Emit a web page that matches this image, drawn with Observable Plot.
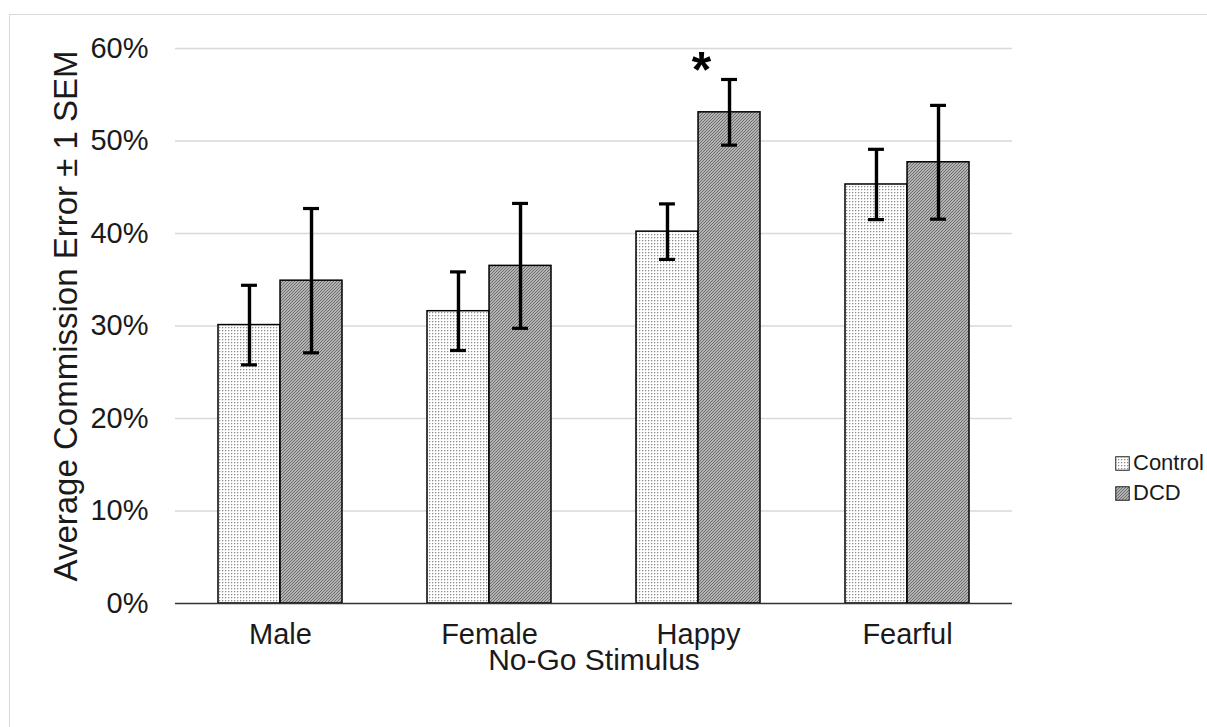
<!DOCTYPE html>
<html>
<head>
<meta charset="utf-8">
<script src="https://cdn.jsdelivr.net/npm/d3@7"></script>
<script src="https://cdn.jsdelivr.net/npm/@observablehq/plot@0.6"></script>
<style>
  html, body { margin: 0; padding: 0; background: #fff; }
  body { width: 1207px; height: 727px; position: relative; overflow: hidden; font-family: "Liberation Sans", Arial, sans-serif; }
  #frame { position: absolute; left: 9px; top: 14px; width: 1300px; height: 800px; border: 1.5px solid #d9d9d9; box-sizing: border-box; }
  #chart { position: absolute; left: 0; top: 0; }
  #legend { position: absolute; left: 1115px; top: 448px; font-size: 22px; color: #1a1a1a; }
  .item { display: flex; align-items: center; height: 30px; }
  .item svg { margin-right: 3px; }
</style>
</head>
<body>
<svg width="0" height="0" style="position:absolute">
  <defs>
    <pattern id="pCtrl" width="3" height="3" patternUnits="userSpaceOnUse">
      <rect width="3" height="3" fill="#ffffff"/>
      <rect x="0" y="0" width="1" height="1" fill="#8c8c8c"/>
      <rect x="1" y="0" width="1" height="1" fill="#dcdcdc"/>
      <rect x="0" y="1" width="1" height="1" fill="#dcdcdc"/>
    </pattern>
    <pattern id="pDcd" width="3" height="3" patternUnits="userSpaceOnUse">
      <rect width="3" height="3" fill="#d0d0d0"/>
      <path d="M-1,1 l2,-2 M0,3 l3,-3 M2,4 l2,-2" stroke="#6a6a6a" stroke-width="1.1"/>
    </pattern>
  </defs>
</svg>
<div id="frame"></div>
<div id="chart"></div>
<div id="legend"></div>
<script>
// ---- data ----
const stimuli = ["Male", "Female", "Happy", "Fearful"];
const groups = ["Control", "DCD"];
const controlMean = [0.301, 0.316, 0.402, 0.453];
const controlSEM  = [0.043, 0.0425, 0.030, 0.038];
const dcdMean     = [0.349, 0.365, 0.531, 0.477];
const dcdSEM      = [0.078, 0.0675, 0.0355, 0.0615];
const yTicks = [0, 0.1, 0.2, 0.3, 0.4, 0.5, 0.6];
const xTitle = "No-Go Stimulus";
const yTitle = "Average Commission Error ± 1 SEM";
const significant = [{stimulus: "Happy", group: "DCD", label: "*"}];
const patternFor = {Control: "url(#pCtrl)", DCD: "url(#pDcd)"};

const rows = stimuli.flatMap((s, i) => [
  {stimulus: s, group: "Control", mean: controlMean[i], sem: controlSEM[i]},
  {stimulus: s, group: "DCD", mean: dcdMean[i], sem: dcdSEM[i]}
]);

// ---- layout ----
const W = 1207, H = 727, mL = 175, mR = 195, mT = 48, mB = 124;
const pad = 0.407;
const step = (W - mL - mR) / stimuli.length;
const bw = step * (1 - pad);
const half = bw / 2;
const capW = 16;

const marks = [
  Plot.ruleY(yTicks.slice(1), {stroke: "#d9d9d9", strokeWidth: 1.5})
];
groups.forEach((g, gi) => {
  const sub = rows.filter(d => d.group === g);
  const center = gi === 0 ? half / 2 : half + half / 2; // within band
  const inL = center - capW / 2, inR = bw - center - capW / 2;
  const off = center - half;
  marks.push(
    Plot.barY(sub, {
      x: "stimulus", y: "mean",
      insetLeft: gi === 0 ? 0 : half, insetRight: gi === 0 ? half : 0,
      fill: patternFor[g], stroke: "#000", strokeWidth: 1.5
    }),
    Plot.ruleX(sub, {
      x: "stimulus", y1: d => d.mean - d.sem, y2: d => d.mean + d.sem,
      dx: off, stroke: "#000", strokeWidth: 3.4
    }),
    Plot.tickY(sub, {x: "stimulus", y: d => d.mean + d.sem, insetLeft: inL, insetRight: inR, stroke: "#000", strokeWidth: 3.2}),
    Plot.tickY(sub, {x: "stimulus", y: d => d.mean - d.sem, insetLeft: inL, insetRight: inR, stroke: "#000", strokeWidth: 3.2})
  );
});
const sig = significant.map(s => {
  const r = rows.find(d => d.stimulus === s.stimulus && d.group === s.group);
  return {...s, top: r.mean + r.sem};
});
marks.push(
  Plot.text(sig, {
    x: "stimulus", y: "top", text: "label",
    dx: 3, dy: -8, fontSize: 50, fontWeight: "bold", fill: "#000"
  }),
  Plot.ruleY([0], {stroke: "#333", strokeWidth: 1.5}),
  Plot.text([yTitle], {frameAnchor: "left", textAnchor: "middle", lineAnchor: "middle", rotate: -90, dx: -109, dy: -10, fontSize: 33, fill: "#1a1a1a"}),
  Plot.text([xTitle], {frameAnchor: "bottom", textAnchor: "middle", lineAnchor: "middle", dy: 57, fontSize: 30, fill: "#1a1a1a"})
);

const chart = Plot.plot({
  width: W, height: H,
  marginLeft: mL, marginRight: mR, marginTop: mT, marginBottom: mB,
  style: {fontFamily: "'Liberation Sans', Arial, sans-serif", fontSize: "29px", color: "#1a1a1a", background: "transparent", overflow: "visible"},
  x: {domain: stimuli, paddingInner: pad, paddingOuter: pad / 2, tickSize: 0, tickPadding: 20, label: null},
  y: {domain: [0, 0.6], ticks: yTicks, tickFormat: d3.format(".0%"), tickSize: 0, tickPadding: 27, label: null},
  marks
});
document.getElementById("chart").appendChild(chart);

// ---- legend ----
const legend = document.getElementById("legend");
groups.forEach(g => {
  const item = document.createElement("div");
  item.className = "item";
  item.innerHTML = `<svg width="15" height="15"><rect x="0.75" y="0.75" width="13.5" height="13.5" fill="${patternFor[g]}" stroke="#222" stroke-width="1"/></svg><span>${g}</span>`;
  legend.appendChild(item);
});
</script>
</body>
</html>
